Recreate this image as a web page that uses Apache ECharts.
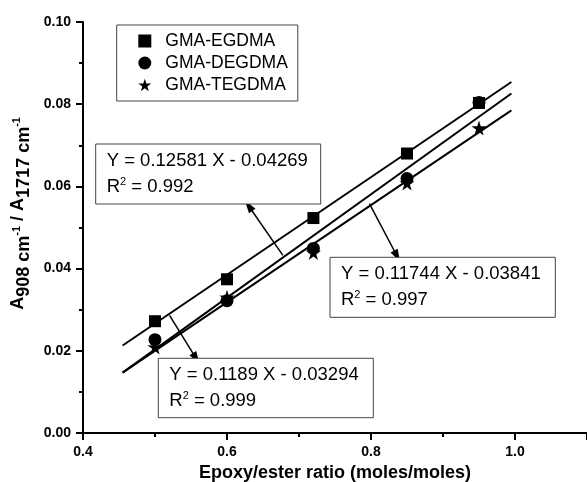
<!DOCTYPE html>
<html>
<head>
<meta charset="utf-8">
<script src="https://cdn.jsdelivr.net/npm/echarts@6/dist/echarts.min.js"></script>
<style>
html,body{margin:0;padding:0;background:#fff;overflow:hidden;}
#chart{width:587px;height:482px;}
</style>
</head>
<body>
<div id="chart"></div>
<script>
// ---- data ----
const xVals = [0.5, 0.6, 0.72, 0.85, 0.95];
const egdma = [0.0272, 0.0374, 0.0523, 0.0680, 0.0803];
const degdma = [0.0227, 0.0322, 0.0449, 0.0619, 0.0804];
const tegdma = [0.0209, 0.0330, 0.0439, 0.0608, 0.0742];

// fitted lines (end points)
const fitX = [0.455, 0.995];
const fitTop = [0.0213, 0.0854];   // Y = 0.1189 X - 0.03294
const fitMid = [0.0147, 0.0826];   // Y = 0.12581 X - 0.04269
const fitLow = [0.0147, 0.0785];   // Y = 0.11744 X - 0.03841

// arrows: [from, to] in data coordinates
const arrows = [
  [[0.6776, 0.0432], [0.6299, 0.0553]],
  [[0.7978, 0.0558], [0.8363, 0.0430]],
  [[0.5202, 0.0286], [0.5573, 0.0181]]
];

const seriesNames = ['GMA-EGDMA', 'GMA-DEGDMA', 'GMA-TEGDMA'];
const eqLines = [
  ['Y = 0.12581 X - 0.04269', '0.992'],
  ['Y = 0.11744 X - 0.03841', '0.997'],
  ['Y = 0.1189 X - 0.03294', '0.999']
];
const xTicks = {min: 0.4, max: 1.1, interval: 0.2};
const yTicks = {min: 0, max: 0.10, interval: 0.02};

// ---- chart ----
const FONT = 'Liberation Sans, Arial, Helvetica, sans-serif';
const STAR = 'path://M50,0 L61.2,35.1 L97.6,34.5 L68.1,56.1 L79.4,90.9 L50,69.3 L20.6,90.9 L31.9,56.1 L2.4,34.5 L38.8,35.1 Z';

function zip(xs, ys) { return xs.map((x, i) => [x, ys[i]]); }

const chart = echarts.init(document.getElementById('chart'));

function fitSeries(name, ys) {
  return {
    type: 'line', name: name, data: zip(fitX, ys), symbol: 'none', showSymbol: false,
    lineStyle: {color: '#000', width: 2}, silent: true, z: 2
  };
}

function eqBox(x, y, w, h, lines) {
  return [
    {type: 'rect', shape: {x: x, y: y, width: w, height: h},
     style: {fill: '#fff', stroke: '#444', lineWidth: 1}, z: 10},
    {type: 'text', x: x + 11, y: y + 16.5, z: 11,
     style: {text: lines[0], font: '18.5px ' + FONT, fill: '#000', verticalAlign: 'middle', align: 'left'}},
    {type: 'text', x: x + 11, y: y + 43, z: 11,
     style: {text: 'R{sup|2} = ' + lines[1], font: '18.5px ' + FONT, fill: '#000',
             verticalAlign: 'middle', align: 'left', lineHeight: 22,
             rich: {sup: {fontSize: 11, fontFamily: FONT, lineHeight: 12, verticalAlign: 'top', fill: '#000'}}}}
  ];
}

const tickParts = () => ({
  axisLine: {show: true, onZero: false, lineStyle: {color: '#000', width: 2}},
  axisTick: {show: true, length: 7, lineStyle: {color: '#000', width: 2}},
  minorTick: {show: true, splitNumber: 2, length: 4, lineStyle: {color: '#000', width: 2}},
  splitLine: {show: false}
});

const option = {
  backgroundColor: '#fff',
  animation: false,
  grid: {left: 83, right: 0, top: 22, bottom: 49, outerBoundsMode: 'none'},
  xAxis: [
    Object.assign({
      type: 'value', position: 'bottom', min: xTicks.min, max: xTicks.max, interval: xTicks.interval,
      name: 'Epoxy/ester ratio (moles/moles)', nameLocation: 'middle', nameGap: 31,
      nameTextStyle: {fontFamily: FONT, fontWeight: 'bold', fontSize: 18, color: '#000'},
      axisLabel: {fontFamily: FONT, fontWeight: 'bold', fontSize: 14, color: '#000', margin: 12,
                  formatter: v => (v > 1.05 ? '' : v.toFixed(1))}
    }, tickParts()),
    // same scale again, drawing only line and ticks
    Object.assign({
      type: 'value', position: 'bottom', offset: 0, min: xTicks.min, max: xTicks.max, interval: xTicks.interval,
      axisLabel: {show: false}
    }, tickParts())
  ],
  yAxis: Object.assign({
    type: 'value', min: yTicks.min, max: yTicks.max, interval: yTicks.interval,
    axisLabel: {fontFamily: FONT, fontWeight: 'bold', fontSize: 14, color: '#000', margin: 12,
                formatter: v => v.toFixed(2)}
  }, tickParts()),
  legend: {
    show: true, orient: 'vertical', left: 116.7, top: 25, data: seriesNames,
    borderColor: '#444', borderWidth: 1, borderRadius: 0, padding: [5, 10, 5, 21.6],
    itemWidth: 13, itemHeight: 13, itemGap: 0, selectedMode: false,
    textStyle: {fontFamily: FONT, fontSize: 17.5, color: '#000', lineHeight: 22, padding: [0, 0, 0, 9]}
  },
  series: [
    fitSeries('fitTop', fitTop),
    fitSeries('fitMid', fitMid),
    Object.assign(fitSeries('fitLow', fitLow), {
      markLine: {
        silent: true, symbol: ['none', 'triangle'], symbolSize: [8, 13], label: {show: false},
        lineStyle: {color: '#000', width: 1.5, type: 'solid'}, emphasis: {disabled: true},
        data: arrows.map(a => [{coord: a[0]}, {coord: a[1]}])
      }
    }),
    {type: 'scatter', name: seriesNames[2], data: zip(xVals, tegdma), symbol: STAR, symbolSize: 15,
     itemStyle: {color: '#000', opacity: 1}, z: 3},
    {type: 'scatter', name: seriesNames[1], data: zip(xVals, degdma), symbol: 'circle', symbolSize: 13,
     itemStyle: {color: '#000', opacity: 1}, z: 4},
    {type: 'scatter', name: seriesNames[0], data: zip(xVals, egdma), symbol: 'rect', symbolSize: 12,
     itemStyle: {color: '#000', opacity: 1}, z: 5}
  ],
  graphic: [].concat(
    eqBox(95.7, 144, 225, 60, eqLines[0]),
    eqBox(330, 257.3, 225.3, 60, eqLines[1]),
    eqBox(158.3, 358.3, 215, 59.4, eqLines[2]),
    [{
      type: 'text', x: 18.3, y: 213.4, rotation: Math.PI / 2, z: 20,
      style: {
        text: '{n|A}{s|908 cm}{p|-1}{n| / A}{s|1717 cm}{p|-1}',
        align: 'center', verticalAlign: 'middle', fill: '#000',
        rich: {
          n: {fontFamily: FONT, fontWeight: 'bold', fontSize: 18, lineHeight: 30, verticalAlign: 'middle', fill: '#000'},
          s: {fontFamily: FONT, fontWeight: 'bold', fontSize: 18, lineHeight: 16, verticalAlign: 'bottom', fill: '#000'},
          p: {fontFamily: FONT, fontWeight: 'bold', fontSize: 11, lineHeight: 12, verticalAlign: 'top', padding: [8, 0, 0, 0], fill: '#000'}
        }
      }
    }]
  )
};
chart.setOption(option);
</script>
</body>
</html>
